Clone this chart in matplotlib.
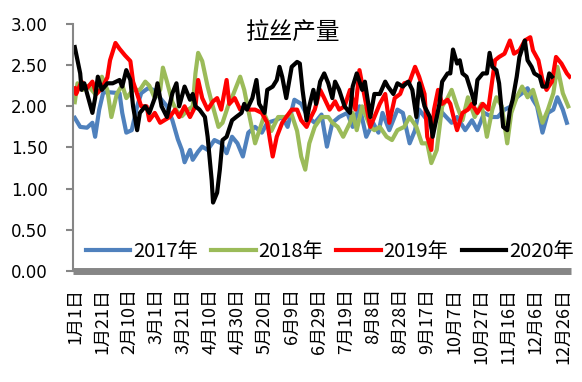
import matplotlib
matplotlib.use('Agg')
import matplotlib.pyplot as plt

# ===== 数据：横轴为一年中的第几天（0 = 1月1日） =====
days_2017 = [0, 4, 9, 13, 15, 18, 21, 26, 33, 35, 38, 42, 46, 49, 54, 58, 63, 68, 72, 76,
             79, 81, 85, 87, 91, 94, 98, 103, 108, 112, 116, 120, 124, 128, 133, 138, 142, 148, 153, 157,
             162, 167, 172, 177, 182, 186, 190, 195, 201, 205, 210, 215, 220, 224, 227, 232, 238, 242, 247, 251,
             254, 260, 264, 269, 274, 278, 282, 288, 293, 297, 302, 308, 312, 317, 322, 326, 330, 334, 338, 341,
             345, 349, 353, 356, 360, 363]
vals_2017 = [1.86, 1.75, 1.74, 1.80, 1.63, 1.96, 2.17, 2.17, 2.16, 1.92, 1.68, 1.71, 2.00, 2.16, 2.22, 2.20, 2.10, 2.00, 1.83, 1.60,
             1.47, 1.32, 1.47, 1.35, 1.45, 1.51, 1.47, 1.59, 1.55, 1.43, 1.63, 1.55, 1.39, 1.68, 1.75, 1.68, 1.80, 1.83, 1.87, 1.75,
             2.08, 2.03, 1.87, 1.80, 1.90, 1.51, 1.80, 1.87, 1.92, 1.75, 2.00, 1.63, 1.80, 1.68, 1.92, 1.71, 1.96, 1.92, 1.55, 1.71,
             1.96, 1.83, 1.71, 1.96, 1.87, 1.80, 1.87, 1.71, 1.83, 1.71, 1.92, 1.87, 1.87, 1.96, 2.00, 2.11, 2.16, 2.22, 2.08, 2.00,
             1.68, 1.92, 1.96, 2.11, 1.96, 1.80]

days_2018 = [0, 2, 6, 10, 15, 18, 20, 24, 27, 31, 35, 38, 43, 48, 52, 55, 59, 63, 65, 68,
             72, 75, 79, 83, 87, 89, 91, 94, 98, 101, 106, 109, 113, 117, 122, 125, 129, 133, 136, 140,
             145, 150, 155, 160, 164, 167, 170, 173, 177, 182, 187, 190, 194, 198, 203, 205, 208, 212, 218, 221,
             225, 230, 234, 238, 243, 247, 252, 256, 260, 263, 267, 271, 275, 278, 282, 286, 290, 295, 300, 304,
             308, 311, 315, 319, 322, 326, 330, 334, 338, 341, 345, 349, 353, 356, 360, 364]
vals_2018 = [2.05, 2.28, 2.20, 2.25, 2.15, 2.26, 2.36, 2.20, 1.87, 2.15, 2.26, 2.10, 2.20, 2.20, 2.30, 2.25, 2.10, 2.20, 2.47, 2.30,
             2.05, 1.95, 1.88, 1.95, 2.00, 2.40, 2.65, 2.55, 2.24, 2.05, 1.75, 1.80, 2.00, 2.15, 2.36, 2.20, 1.87, 1.55, 1.70, 1.90,
             1.70, 1.87, 1.87, 1.90, 1.70, 1.39, 1.23, 1.55, 1.75, 1.87, 1.87, 1.80, 1.75, 1.63, 1.80, 1.92, 1.71, 2.00, 1.75, 1.71,
             1.75, 1.63, 1.59, 1.71, 1.75, 1.87, 1.75, 1.55, 1.55, 1.31, 1.47, 2.00, 2.10, 2.20, 2.00, 1.83, 2.11, 1.87, 2.03, 1.63,
             1.96, 2.11, 2.00, 1.55, 1.92, 2.11, 2.24, 2.11, 2.20, 2.03, 1.80, 1.96, 2.16, 2.48, 2.16, 2.00]

days_2019 = [0, 1, 5, 9, 13, 16, 20, 24, 26, 30, 33, 37, 41, 43, 46, 49, 53, 55, 59, 63,
             66, 70, 74, 77, 81, 85, 89, 91, 94, 98, 102, 105, 108, 112, 114, 118, 122, 125, 129, 133,
             138, 142, 144, 146, 149, 153, 156, 160, 164, 167, 171, 173, 177, 181, 184, 188, 192, 195, 199, 203,
             207, 210, 214, 218, 221, 225, 229, 232, 236, 240, 243, 247, 251, 254, 258, 260, 263, 265, 268, 271,
             275, 277, 280, 282, 286, 290, 293, 297, 301, 305, 308, 310, 313, 317, 321, 324, 328, 332, 336, 338,
             342, 345, 348, 352, 355, 359, 363, 365]
vals_2019 = [2.22, 2.15, 2.30, 2.22, 2.30, 2.15, 2.22, 2.35, 2.56, 2.77, 2.70, 2.62, 2.55, 2.30, 2.15, 2.00, 2.00, 1.83, 1.92, 1.80,
             1.83, 1.87, 1.96, 1.87, 2.00, 1.87, 2.00, 2.32, 2.10, 1.96, 2.06, 2.10, 1.96, 2.32, 2.03, 2.10, 1.96, 2.00, 1.96, 1.96,
             1.92, 1.80, 1.59, 1.39, 1.63, 1.80, 1.87, 1.96, 1.96, 1.83, 1.75, 1.83, 1.96, 2.20, 2.10, 1.96, 2.06, 1.96, 2.00, 2.20,
             1.96, 2.44, 2.10, 1.75, 1.87, 2.03, 2.15, 1.80, 2.10, 2.15, 2.28, 2.30, 2.48, 2.36, 2.15, 1.63, 1.47, 1.96, 2.20, 2.03,
             2.08, 2.03, 1.83, 1.71, 1.92, 1.96, 2.03, 1.92, 2.03, 1.96, 2.32, 2.56, 2.60, 2.64, 2.80, 2.64, 2.68, 2.80, 2.84, 2.68,
             2.56, 2.32, 2.20, 2.30, 2.60, 2.52, 2.40, 2.36]

days_2020 = [0, 1, 4, 5, 7, 10, 13, 15, 17, 20, 24, 28, 33, 35, 38, 41, 43, 46, 48, 52,
             55, 59, 61, 64, 68, 72, 75, 77, 81, 85, 87, 89, 92, 96, 98, 101, 102, 105, 107, 109,
             112, 116, 119, 123, 125, 127, 131, 134, 136, 140, 142, 146, 149, 151, 153, 156, 160, 164, 166, 168,
             171, 173, 176, 178, 181, 184, 187, 190, 192, 195, 199, 203, 205, 208, 212, 214, 218, 221, 225, 229,
             231, 235, 238, 242, 246, 249, 252, 254, 258, 262, 264, 267, 269, 271, 275, 277, 279, 282, 284, 286,
             289, 293, 295, 297, 301, 304, 306, 308, 311, 313, 316, 319, 321, 323, 326, 328, 332, 334, 337, 339,
             343, 345, 348, 350, 352]
vals_2020 = [2.72, 2.64, 2.40, 2.20, 2.28, 2.10, 1.92, 2.10, 2.36, 2.20, 2.28, 2.28, 2.32, 2.24, 2.44, 2.32, 2.00, 1.71, 1.92, 2.00,
             1.92, 2.10, 2.28, 2.00, 1.87, 2.16, 2.28, 2.00, 2.24, 2.08, 2.15, 2.00, 1.96, 1.87, 1.63, 1.10, 0.83, 0.95, 1.23, 1.59,
             1.63, 1.83, 1.87, 1.92, 2.03, 1.96, 2.10, 2.32, 2.03, 1.92, 2.20, 2.24, 2.32, 2.48, 2.36, 2.10, 2.48, 2.54, 2.52, 2.20,
             1.83, 2.00, 2.20, 2.03, 2.30, 2.40, 2.28, 2.10, 2.30, 2.20, 2.00, 1.92, 2.24, 2.40, 2.20, 2.30, 1.87, 2.15, 2.15, 2.30,
             2.24, 2.15, 2.28, 2.24, 2.30, 2.20, 1.87, 2.28, 2.00, 1.87, 1.63, 1.87, 2.03, 2.30, 2.40, 2.40, 2.69, 2.52, 2.56, 2.40,
             2.36, 2.15, 2.03, 2.32, 2.40, 2.40, 2.65, 2.48, 2.44, 2.28, 1.75, 1.71, 1.96, 2.08, 2.36, 2.60, 2.80, 2.56, 2.48, 2.40,
             2.36, 2.24, 2.24, 2.40, 2.36]

# 横轴刻度：每 20 天一个
tick_days = [0, 20, 40, 60, 80, 100, 120, 140, 160, 180, 200, 220, 240, 260, 280, 300, 320, 340, 360]
tick_labels = ['1月1日', '1月21日', '2月10日', '3月1日', '3月21日', '4月10日', '4月30日', '5月20日',
               '6月9日', '6月29日', '7月19日', '8月8日', '8月28日', '9月17日', '10月7日', '10月27日',
               '11月16日', '12月6日', '12月26日']

series = [
    ('2017年', days_2017, vals_2017, '#4F81BD'),
    ('2018年', days_2018, vals_2018, '#9BBB59'),
    ('2019年', days_2019, vals_2019, '#FF0000'),
    ('2020年', days_2020, vals_2020, '#000000'),
]

plt.rcParams['font.family'] = ['Noto Sans CJK SC', 'DejaVu Sans']

fig = plt.figure(figsize=(5.82, 3.82), dpi=100)
ax = fig.add_axes([0.125, 0.291, 0.856, 0.646])

for name, d, v, c in series:
    ax.plot(d, v, color=c, lw=3.0, label=name, solid_joinstyle='round')

ax.set_xlim(-1.5, 366)
ax.set_ylim(0, 3)
ax.set_yticks([0, 0.5, 1.0, 1.5, 2.0, 2.5, 3.0])
ax.set_yticklabels([f'{t:.2f}' for t in ax.get_yticks()], family='DejaVu Sans', fontsize=12)
ax.set_xticks(tick_days)
ax.set_xticklabels(tick_labels, rotation=90, fontsize=13)

ax.tick_params(axis='y', length=5, width=1.5, color='#868686', pad=13)
ax.tick_params(axis='x', length=0, pad=12)

for s in ['top', 'right']:
    ax.spines[s].set_visible(False)
ax.spines['left'].set_color('#868686')
ax.spines['left'].set_linewidth(1.5)
ax.spines['bottom'].set_color('#868686')
ax.spines['bottom'].set_linewidth(5)
ax.spines['bottom'].set_capstyle('butt')

fig.text(0.503, 0.914, '拉丝产量', ha='center', va='center', fontsize=17)

ax.legend(loc='center', bbox_to_anchor=(0.516, 0.077), ncol=4, frameon=False,
          fontsize=14.5, handlelength=2.2, handletextpad=0.15, columnspacing=0.65,
          borderaxespad=0, borderpad=0)

fig.savefig('out.png', dpi=100)
